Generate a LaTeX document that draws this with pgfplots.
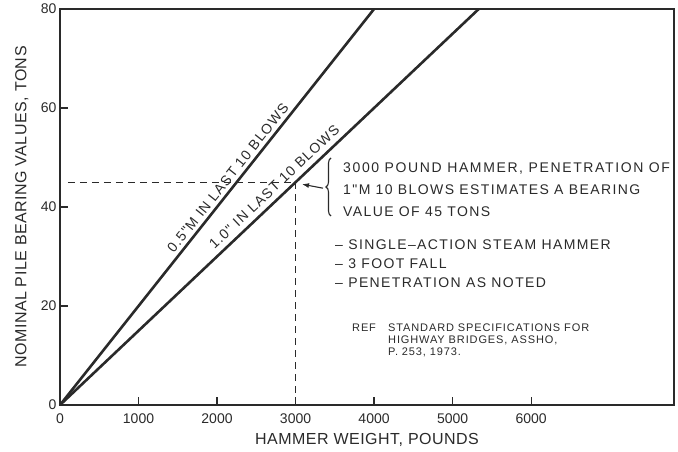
\documentclass[border=0pt]{standalone}
\usepackage{fontspec}
\setmainfont{Liberation Sans}
\newfontfamily\lsfont{Liberation Sans}[LetterSpace=8]
\newfontfamily\lsfontb{Liberation Sans}[LetterSpace=10]
\newfontfamily\lsfontc{Liberation Sans}[LetterSpace=11.6]
\newfontfamily\lblfont{Liberation Sans}[LetterSpace=3]
\usepackage{pgfplots}
\pgfplotsset{compat=1.18}
\usetikzlibrary{decorations.pathreplacing,arrows.meta}
\definecolor{ink}{HTML}{2A2A2A}
\begin{document}
\begin{tikzpicture}[font=\lsfont\fontsize{14}{17}\selectfont, color=ink]
\useasboundingbox (0,0) rectangle (678pt,452pt);
\begin{axis}[
  at={(60pt,47pt)}, anchor=south west,
  scale only axis, width=614pt, height=396pt,
  xmin=0, xmax=7820, ymin=0, ymax=80,
  xtick={0,1000,...,6000}, ytick={0,20,...,80},
  tick align=inside, xtick pos=bottom, ytick pos=left,
  major tick length=8pt,
  axis line style={line width=1.4pt, color=ink},
  tick style={line width=1.2pt, color=ink},
  ticklabel style={font=\fontsize{14}{14}\selectfont, text=ink},
  /pgf/number format/assume math mode=true,
  /pgf/number format/1000 sep={},
  scaled x ticks=false,
  xticklabel style={yshift=-5pt},
  label style={font=\lblfont\fontsize{16}{16}\selectfont, text=ink},
  xlabel={HAMMER WEIGHT, POUNDS},
  ylabel={NOMINAL PILE BEARING VALUES, TONS},
  xlabel style={at={(axis description cs:0.5,-0.0884)}, anchor=center},
  ylabel style={at={(axis description cs:-0.062,0.5)}, anchor=center},
  clip=false,
]
\addplot[ink, line width=2.6pt] coordinates {(0,0) (4000,80)};
\addplot[ink, line width=2.6pt] coordinates {(0,0) (5333,80)};
\addplot[ink, line width=1.3pt, dash pattern=on 7pt off 5pt] coordinates {(100,45) (3000,45)};
\addplot[ink, line width=1.3pt, dash pattern=on 7pt off 5pt] coordinates {(3000,45) (3000,0)};
\node[rotate=51.6, anchor=south, inner sep=0pt, outer sep=4.5pt] at (axis cs:2233,44.7) {0.5"M IN LAST 10 BLOWS};
\node[rotate=43.4, anchor=south, inner sep=0pt, outer sep=6.5pt] at (axis cs:2828,42.4) {1.0" IN LAST 10 BLOWS};
\draw[-{Latex[length=7pt,width=5pt]}, line width=1.1pt, ink] (axis cs:3350,43.8) -- (axis cs:3082,44.6);
\end{axis}
\draw[decorate, decoration={brace, amplitude=5pt}, line width=1.1pt, ink] (331pt,236pt) -- (331pt,294pt);
\node[anchor=north west, inner sep=0pt, align=left, font=\lsfontb\fontsize{14}{22}\selectfont] at (343pt,289pt)
  {{\lsfontc 3000 POUND HAMMER, PENETRATION OF}\\1"M 10 BLOWS ESTIMATES A BEARING\\VALUE OF 45 TONS};
\node[anchor=north west, inner sep=0pt, align=left, font=\lsfontb\fontsize{14}{19}\selectfont] at (335pt,212pt)
  {– SINGLE–ACTION STEAM HAMMER\\– 3 FOOT FALL\\– PENETRATION AS NOTED};
\node[anchor=north west, inner sep=0pt, font=\lsfont\fontsize{11}{12}\selectfont] at (352pt,128pt) {REF};
\node[anchor=north west, inner sep=0pt, align=left, font=\lsfont\fontsize{11}{12}\selectfont] at (388pt,128pt)
  {STANDARD SPECIFICATIONS FOR\\HIGHWAY BRIDGES, ASSHO,\\P. 253, 1973.};
\end{tikzpicture}
\end{document}
